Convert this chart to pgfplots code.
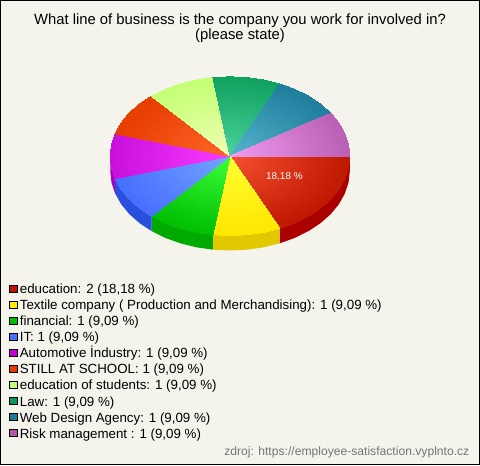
\documentclass[border=0pt]{standalone}
\usepackage{pgfplots}
\pgfplotsset{compat=1.18}
\usepackage{fontspec}
\setmainfont{Liberation Sans}
\definecolor{bgc}{RGB}{245,244,236}
\definecolor{aC}{RGB}{245,80,50}\definecolor{aR}{RGB}{190,25,0}\definecolor{aS}{RGB}{170,0,0}
\definecolor{bC}{RGB}{255,255,50}\definecolor{bR}{RGB}{255,230,0}\definecolor{bS}{RGB}{225,200,0}
\definecolor{cC}{RGB}{60,255,60}\definecolor{cR}{RGB}{0,190,0}\definecolor{cS}{RGB}{0,170,0}
\definecolor{dC}{RGB}{115,165,255}\definecolor{dR}{RGB}{70,110,255}\definecolor{dS}{RGB}{40,80,220}
\definecolor{eC}{RGB}{250,60,255}\definecolor{eR}{RGB}{200,15,220}\definecolor{eS}{RGB}{170,0,190}
\definecolor{fC}{RGB}{255,100,40}\definecolor{fR}{RGB}{230,60,0}
\definecolor{gC}{RGB}{240,255,180}\definecolor{gR}{RGB}{195,255,115}
\definecolor{hC}{RGB}{75,210,155}\definecolor{hR}{RGB}{15,160,95}
\definecolor{iC}{RGB}{85,180,205}\definecolor{iR}{RGB}{30,125,155}
\definecolor{jC}{RGB}{240,155,240}\definecolor{jR}{RGB}{185,95,180}
\definecolor{aL}{RGB}{190,20,0}\definecolor{bL}{RGB}{255,235,0}\definecolor{cL}{RGB}{0,190,0}
\definecolor{dL}{RGB}{70,110,255}\definecolor{eL}{RGB}{195,0,210}\definecolor{fL}{RGB}{230,60,0}
\definecolor{gL}{RGB}{195,255,115}\definecolor{hL}{RGB}{10,150,90}\definecolor{iL}{RGB}{25,125,150}
\definecolor{jL}{RGB}{180,85,170}
\pgfplotsset{fan/.style={forget plot,patch,patch type=triangle,shader=interp,draw=none,mesh/color input=explicit,
  table/row sep=\\,patch table={0 1 2\\0 2 3\\0 3 4\\0 4 5\\}}}
\pgfplotsset{fanlong/.style={forget plot,patch,patch type=triangle,shader=interp,draw=none,mesh/color input=explicit,
  table/row sep=\\,patch table={0 1 2\\0 2 3\\0 3 4\\0 4 5\\0 5 6\\0 6 7\\0 7 8\\0 8 9\\}}}
\begin{document}
\begin{tikzpicture}
\begin{axis}[
  width=480pt,height=465pt,scale only axis,
  xmin=0,xmax=480,ymin=0,ymax=465,y dir=reverse,
  axis line style={draw=black,line width=1pt},
  ticks=none,
  axis background/.style={fill=bgc},
  clip=false,
  legend cell align=left,
  legend image code/.code={\draw[#1,draw=black,line width=0.8pt] (0pt,-2.2pt) rectangle (7.4pt,5.2pt);},
  legend style={at={(axis cs:8.5,283.5)},anchor=north west,draw=none,fill=none,inner sep=0pt,
    font=\fontsize{13.35}{15}\selectfont,row sep=3.1pt,
    nodes={inner xsep=2.5pt,inner ysep=0pt,text height=10pt,text depth=3pt}},
]
% side walls
\addplot[forget plot,fill=aS,draw=none] coordinates {(350,156)(348.8,167.3)(345.1,178.4)(339.2,189)(331,199)(320.7,208.1)(308.6,216.1)(294.9,222.9)(279.8,228.3)(279.8,243.3)(294.9,237.9)(308.6,231.1)(320.7,223.1)(331,214)(339.2,204)(345.1,193.4)(348.8,182.3)(350,171)};
\addplot[forget plot,fill=bS,draw=none] coordinates {(279.8,228.3)(263.8,232.3)(247.1,234.7)(230,235.5)(212.9,234.7)(212.9,249.7)(230,250.5)(247.1,249.7)(263.8,247.3)(279.8,243.3)};
\addplot[forget plot,fill=cS,draw=none] coordinates {(212.9,234.7)(196.2,232.3)(180.2,228.3)(165.1,222.9)(151.4,216.1)(151.4,231.1)(165.1,237.9)(180.2,243.3)(196.2,247.3)(212.9,249.7)};
\addplot[forget plot,fill=dS,draw=none] coordinates {(151.4,216.1)(139.3,208.1)(129,199)(120.8,189)(114.9,178.4)(114.9,193.4)(120.8,204)(129,214)(139.3,223.1)(151.4,231.1)};
\addplot[forget plot,fill=eS,draw=none] coordinates {(114.9,178.4)(111.2,167.3)(110,156)(110,171)(111.2,182.3)(114.9,193.4)};
% top face
\addplot[fanlong] table[meta=c]{x y c\\230 156 color=aC\\350 156 color=aR\\348.8 167.3 color=aR\\345.1 178.4 color=aR\\339.2 189 color=aR\\331 199 color=aR\\320.7 208.1 color=aR\\308.6 216.1 color=aR\\294.9 222.9 color=aR\\279.8 228.3 color=aR\\};
\addplot[fan] table[meta=c]{x y c\\230 156 color=bC\\279.8 228.3 color=bR\\263.8 232.3 color=bR\\247.1 234.7 color=bR\\230 235.5 color=bR\\212.9 234.7 color=bR\\};
\addplot[fan] table[meta=c]{x y c\\230 156 color=cC\\212.9 234.7 color=cR\\196.2 232.3 color=cR\\180.2 228.3 color=cR\\165.1 222.9 color=cR\\151.4 216.1 color=cR\\};
\addplot[fan] table[meta=c]{x y c\\230 156 color=dC\\151.4 216.1 color=dR\\139.3 208.1 color=dR\\129 199 color=dR\\120.8 189 color=dR\\114.9 178.4 color=dR\\};
\addplot[fan] table[meta=c]{x y c\\230 156 color=eC\\114.9 178.4 color=eR\\111.2 167.3 color=eR\\110 156 color=eR\\111.2 144.7 color=eR\\114.9 133.6 color=eR\\};
\addplot[fan] table[meta=c]{x y c\\230 156 color=fC\\114.9 133.6 color=fR\\120.8 123 color=fR\\129 113 color=fR\\139.3 103.9 color=fR\\151.4 95.9 color=fR\\};
\addplot[fan] table[meta=c]{x y c\\230 156 color=gC\\151.4 95.9 color=gR\\165.1 89.1 color=gR\\180.2 83.7 color=gR\\196.2 79.7 color=gR\\212.9 77.3 color=gR\\};
\addplot[fan] table[meta=c]{x y c\\230 156 color=hC\\212.9 77.3 color=hR\\230 76.5 color=hR\\247.1 77.3 color=hR\\263.8 79.7 color=hR\\279.8 83.7 color=hR\\};
\addplot[fan] table[meta=c]{x y c\\230 156 color=iC\\279.8 83.7 color=iR\\294.9 89.1 color=iR\\308.6 95.9 color=iR\\320.7 103.9 color=iR\\331 113 color=iR\\};
\addplot[fan] table[meta=c]{x y c\\230 156 color=jC\\331 113 color=jR\\339.2 123 color=jR\\345.1 133.6 color=jR\\348.8 144.7 color=jR\\350 156 color=jR\\};
% legend
\addlegendimage{fill=aL}\addlegendentry{education: 2 (18,18 \%)}
\addlegendimage{fill=bL}\addlegendentry{Textile company ( Production and Merchandising): 1 (9,09 \%)}
\addlegendimage{fill=cL}\addlegendentry{financial: 1 (9,09 \%)}
\addlegendimage{fill=dL}\addlegendentry{IT: 1 (9,09 \%)}
\addlegendimage{fill=eL}\addlegendentry{Automotive İndustry: 1 (9,09 \%)}
\addlegendimage{fill=fL}\addlegendentry{STILL AT SCHOOL: 1 (9,09 \%)}
\addlegendimage{fill=gL}\addlegendentry{education of students: 1 (9,09 \%)}
\addlegendimage{fill=hL}\addlegendentry{Law: 1 (9,09 \%)}
\addlegendimage{fill=iL}\addlegendentry{Web Design Agency: 1 (9,09 \%)}
\addlegendimage{fill=jL}\addlegendentry{Risk management : 1 (9,09 \%)}
% texts
\node[font=\fontsize{14.85}{15}\selectfont,align=center,anchor=center,inner sep=0pt] at (axis cs:240,28) {What line of business is the company you work for involved in?\\(please state)};
\node[font=\fontsize{10}{11}\selectfont,text=white,anchor=center,inner sep=0pt] at (axis cs:284.5,177) {18,18 \%};
\node[font=\fontsize{12.15}{13}\selectfont,text=black!55,anchor=east,inner sep=0pt] at (axis cs:470,453) {zdroj: https://employee-satisfaction.vyplnto.cz};
\end{axis}
\end{tikzpicture}
\end{document}
